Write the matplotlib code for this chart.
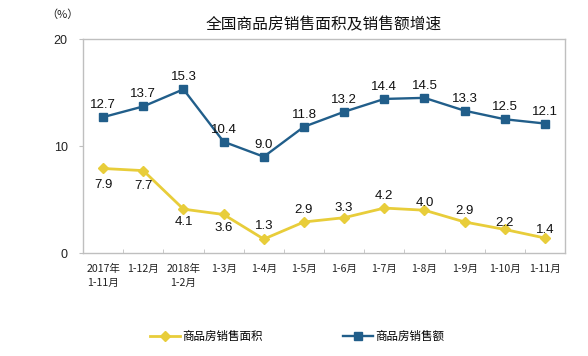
import numpy as np
import matplotlib
matplotlib.use('Agg')
import matplotlib.pyplot as plt
from matplotlib import rcParams
rcParams['font.family'] = ['Noto Sans CJK SC', 'DejaVu Sans']

# data
categories = ['2017年\n1-11月', '1-12月', '2018年\n1-2月', '1-3月', '1-4月', '1-5月',
              '1-6月', '1-7月', '1-8月', '1-9月', '1-10月', '1-11月']
area_growth = [7.9, 7.7, 4.1, 3.6, 1.3, 2.9, 3.3, 4.2, 4.0, 2.9, 2.2, 1.4]
sales_growth = [12.7, 13.7, 15.3, 10.4, 9.0, 11.8, 13.2, 14.4, 14.5, 13.3, 12.5, 12.1]
yticks = [0, 10, 20]

blue = '#215e8a'
yellow = '#e8cd3a'
grey = '#bfbfbf'

# label offsets in pixels (positive = above)
area_off = [-17, -15, -13, -14, 13, 12, 10, 12, 7, 11, 6, 8]
sales_off = [12] * len(sales_growth)

fig = plt.figure(figsize=(5.88, 3.56), dpi=100)
ax = fig.add_axes([0.1412, 0.2893, 0.8198, 0.6011])

x = np.arange(len(categories))
ax.plot(x, area_growth, color=yellow, lw=2.0, marker='D', ms=5, label='商品房销售面积')
ax.plot(x, sales_growth, color=blue, lw=1.7, marker='s', ms=6, label='商品房销售额')

for xi, v, o in zip(x, area_growth, area_off):
    ax.annotate('%.1f' % v, (xi, v), xytext=(0, o * 0.72), textcoords='offset points',
                ha='center', va='center', fontsize=9.5, family='Liberation Sans', color='#111111')
for xi, v, o in zip(x, sales_growth, sales_off):
    ax.annotate('%.1f' % v, (xi, v), xytext=(0, o * 0.72), textcoords='offset points',
                ha='center', va='center', fontsize=9.5, family='Liberation Sans', color='#111111')

ax.set_xlim(-0.5, len(categories) - 0.5)
ax.set_ylim(0, 20)
ax.set_yticks(yticks)
ax.set_yticklabels([str(t) for t in yticks], family='Liberation Sans', fontsize=9, color='#222222')
ax.tick_params(axis='y', direction='out', length=3, color=grey, pad=8)

ax.set_xticks(x)
ax.set_xticklabels(categories, fontsize=7.6, linespacing=1.5, va='top', color='#222222')
ax.tick_params(axis='x', which='major', length=0, pad=8)
ax.set_xticks(np.arange(-0.5, len(categories)), minor=True)
ax.tick_params(axis='x', which='minor', direction='in', length=3, color=grey)

for s in ax.spines.values():
    s.set_color(grey)
    s.set_linewidth(1)

fig.text(0.551, 0.93, '全国商品房销售面积及销售额增速', ha='center', va='center', fontsize=11.3, color='#111111')
fig.text(0.107, 0.958, '（%）', ha='center', va='center', fontsize=8, color='#222222')

fig.legend(loc='center', bbox_to_anchor=(0.505, 0.056), ncol=2, frameon=False, fontsize=8.3,
           handlelength=2.6, handletextpad=0.2, columnspacing=7.0)

fig.savefig('out.png', dpi=100)
